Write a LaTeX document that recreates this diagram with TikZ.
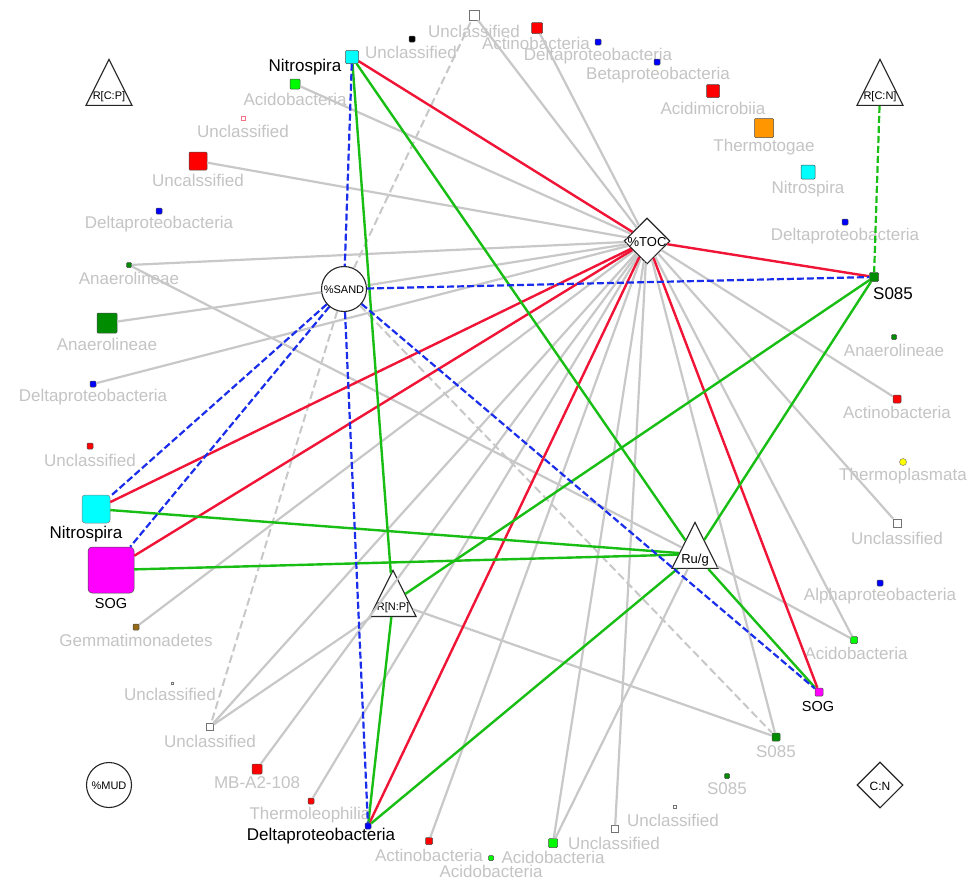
\documentclass[tikz,border=0pt]{standalone}
\usepackage{fontspec}
\setmainfont{Liberation Sans}
\usetikzlibrary{shapes.geometric}
\definecolor{lg}{RGB}{200,200,200}
\definecolor{lt}{RGB}{196,196,196}
\definecolor{ered}{RGB}{240,20,55}
\definecolor{egreen}{RGB}{25,190,20}
\definecolor{eblue}{RGB}{25,45,235}
\definecolor{ncyan}{RGB}{0,255,255}
\definecolor{nbgreen}{RGB}{0,250,0}
\definecolor{ndgreen}{RGB}{0,140,0}
\definecolor{nred}{RGB}{255,0,0}
\definecolor{nblue}{RGB}{0,0,255}
\definecolor{norange}{RGB}{255,150,0}
\definecolor{nmag}{RGB}{255,0,255}
\definecolor{nbrown}{RGB}{150,105,20}
\definecolor{nyellow}{RGB}{255,255,0}
\begin{document}
\begin{tikzpicture}[x=1pt,y=-1pt,
  tx/.style={rectangle, draw=black!70, line width=0.5pt, rounded corners=1pt, inner sep=0pt, minimum size=#1},
  ux/.style={rectangle, draw=black!55, fill=white, line width=0.6pt, inner sep=0pt, minimum size=#1},
  gl/.style={text=lt, font=\fontsize{17pt}{19pt}\selectfont, inner sep=0pt},
  bl/.style={text=black, font=\fontsize{17pt}{19pt}\selectfont, inner sep=0pt},
  sogl/.style={text=black, font=\fontsize{14.5pt}{16pt}\selectfont, inner sep=0pt},
  tri/.style={isosceles triangle, shape border rotate=90, isosceles triangle stretches, minimum width=46pt, minimum height=46pt, inner sep=0pt, draw=black!85, line width=1.1pt, fill=white},
  dia/.style={diamond, minimum width=46pt, minimum height=46pt, inner sep=0pt, draw=black!85, line width=1.1pt, fill=white},
  circ/.style={circle, minimum size=45pt, inner sep=0pt, draw=black!85, line width=1.1pt, fill=white},
  hubt/.style={font=\fontsize{#1}{#1}\selectfont, inner sep=0pt},
  gedge/.style={draw=lg, line width=2.2pt},
  gdash/.style={draw=lg, line width=2pt, dash pattern=on 8pt off 4pt},
  redge/.style={draw=ered, line width=2.4pt},
  gredge/.style={draw=egreen, line width=2.4pt},
  bdash/.style={draw=eblue, line width=2.2pt, dash pattern=on 7pt off 3pt},
  gndash/.style={draw=egreen, line width=2.2pt, dash pattern=on 7pt off 3pt}
]
\fill[white] (0,0) rectangle (974,879);
\useasboundingbox (0,0) rectangle (974,879);

% hubs
\node[dia] (TOC) at (647,241) {};
\node[hubt=13pt] at (647,242) {\%TOC};
\node[circ] (SAND) at (344,289) {};
\node[hubt=11pt] at (344,290) {\%SAND};
\node[tri, anchor=apex] (RCP) at (109,58) {};
\node[hubt=11pt] at (109,97) {R[C:P]};
\node[tri, anchor=apex] (RCN) at (880,58) {};
\node[hubt=11pt] at (880,97) {R[C:N]};
\node[tri, anchor=apex] (Rug) at (695,521) {};
\node[hubt=13pt] at (695,560) {Ru/g};
\node[tri, anchor=apex] (RNP) at (393,569) {};
\node[hubt=11pt] at (393,608) {R[N:P]};
\node[circ] (MUD) at (109,785) {};
\node[hubt=11pt] at (109,786) {\%MUD};
\node[dia] (CN) at (880,785) {};
\node[hubt=12pt] at (880,786) {C:N};

% taxa
\node[tx=13pt, fill=ncyan] (nT) at (352,57) {};
\node[bl] at (305,67) {Nitrospira};
\node[tx=6pt, fill=black] (blkT) at (412,39) {};
\node[gl] at (411,52) {Unclassified};
\node[ux=10pt] (uT) at (474,15) {};
\node[gl] at (474,31) {Unclassified};
\node[tx=11pt, fill=nred] (aT) at (537,28) {};
\node[gl] at (536,43) {Actinobacteria};
\node[tx=6pt, fill=nblue] (dT1) at (598,42) {};
\node[gl] at (598,56) {Deltaproteobacteria};
\node[tx=6pt, fill=nblue] (bT) at (657,62) {};
\node[gl] at (658,75) {Betaproteobacteria};
\node[tx=13pt, fill=nred] (amT) at (713,91) {};
\node[gl] at (713,108) {Acidimicrobiia};
\node[tx=19pt, fill=norange] (thT) at (764,128) {};
\node[gl] at (764,147) {Thermotogae};
\node[tx=14pt, fill=ncyan] (niR) at (808,172) {};
\node[gl] at (808,189) {Nitrospira};
\node[tx=6pt, fill=nblue] (dR1) at (845,222) {};
\node[gl] at (845,236) {Deltaproteobacteria};
\node[tx=9pt, fill=ndgreen] (sR) at (874,277) {};
\node[bl] at (893,294) {S085};
\node[tx=5pt, fill=ndgreen] (anR) at (894,337) {};
\node[gl] at (894,350) {Anaerolineae};
\node[tx=8pt, fill=nred] (acR) at (897,399) {};
\node[gl] at (897,412) {Actinobacteria};
\node[circle, draw=black!60, fill=nyellow, inner sep=0pt, minimum size=7pt] (tpR) at (903,462) {};
\node[gl] at (903,476) {Thermoplasmata};
\node[ux=8pt] (uR) at (897,523) {};
\node[gl] at (897,538) {Unclassified};
\node[tx=6pt, fill=nblue] (alR) at (880,583) {};
\node[gl] at (880,596) {Alphaproteobacteria};
\node[tx=7pt, fill=nbgreen] (adR) at (854,640) {};
\node[gl] at (856,653) {Acidobacteria};
\node[tx=8pt, fill=nmag] (sgS) at (819,692) {};
\node[sogl] at (818,706) {SOG};
\node[tx=8pt, fill=ndgreen] (s85a) at (776,737) {};
\node[gl] at (776,752) {S085};
\node[tx=5pt, fill=ndgreen] (s85b) at (727,776) {};
\node[gl] at (727,789) {S085};
\node[ux=3pt] (uB1) at (675,807) {};
\node[gl] at (673,820) {Unclassified};
\node[ux=7pt] (uB2) at (615,829) {};
\node[gl] at (614,843) {Unclassified};
\node[tx=9pt, fill=nbgreen] (adB1) at (553,843) {};
\node[gl] at (553,857) {Acidobacteria};
\node[tx=5pt, fill=nbgreen] (adB2) at (491,858) {};
\node[gl] at (491,871) {Acidobacteria};
\node[tx=7pt, fill=nred] (acB) at (429,841) {};
\node[gl] at (429,855) {Actinobacteria};
\node[tx=6pt, fill=nblue] (dB) at (368,826) {};
\node[bl] at (321,836) {Deltaproteobacteria};
\node[tx=6pt, fill=nred] (tlB) at (311,801) {};
\node[gl] at (310,815) {Thermoleophilia};
\node[tx=10pt, fill=nred] (mbB) at (257,769) {};
\node[gl] at (257,783) {MB-A2-108};
\node[ux=7pt] (uL1) at (210,727) {};
\node[gl] at (210,741) {Unclassified};
\node[ux=2pt] (uL2) at (172,683) {};
\node[gl] at (170,694) {Unclassified};
\node[tx=6pt, fill=nbrown] (gmL) at (136,627) {};
\node[gl] at (136,640) {Gemmatimonadetes};
\node[rectangle, draw=black!70, line width=0.5pt, rounded corners=4pt, inner sep=0pt, minimum size=46pt, fill=nmag] (sgB) at (111,570) {};
\node[sogl] at (111,603) {SOG};
\node[rectangle, draw=black!50, line width=0.5pt, rounded corners=3pt, inner sep=0pt, minimum size=28pt, fill=ncyan] (niB) at (96,509) {};
\node[bl] at (86,534) {Nitrospira};
\node[tx=6pt, fill=nred] (uL3) at (90,446) {};
\node[gl] at (90,460) {Unclassified};
\node[tx=6pt, fill=nblue] (dL1) at (93,384) {};
\node[gl] at (93,397) {Deltaproteobacteria};
\node[tx=20pt, fill=ndgreen] (anB) at (107,323) {};
\node[gl] at (107,344) {Anaerolineae};
\node[tx=5pt, fill=ndgreen] (anS) at (129,265) {};
\node[gl] at (129,278) {Anaerolineae};
\node[tx=6pt, fill=nblue] (dL2) at (159,211) {};
\node[gl] at (159,224) {Deltaproteobacteria};
\node[tx=18pt, fill=nred] (ucL) at (198,161) {};
\node[gl] at (198,180) {Uncalssified};
\node[rectangle, draw=ered!60, fill=white, line width=0.6pt, inner sep=0pt, minimum size=4pt] (uL4) at (243,118) {};
\node[gl] at (243,131) {Unclassified};
\node[tx=10pt, fill=nbgreen] (adL) at (295,84) {};
\node[gl] at (295,99) {Acidobacteria};

% gray edges
\foreach \t in {uT,aT,adL,ucL,anS,SAND,dL1,gmL,uL1,mbB,tlB,acB,adB1,uB2,s85a,adR,uR,acR}
  \draw[gedge] (TOC) -- (\t);
\draw[gedge] (SAND) -- (anB);
\draw[gedge] (anS) -- (Rug);
\draw[gedge] (Rug) -- (adR);
\draw[gedge] (Rug) -- (adB1);
\draw[gedge] (uL1) -- (RNP);
\draw[gedge] (RNP) -- (s85a);
% gray dashed
\draw[gdash] (SAND) -- (uL1);
\draw[gdash] (SAND) -- (uT);
\draw[gdash] (SAND) -- (s85a);
% red
\draw[redge] (nT) -- (TOC);
\draw[redge] (TOC) -- (sR);
\draw[redge] (TOC) -- (niB);
\draw[redge] (TOC) -- (sgB);
\draw[redge] (TOC) -- (dB);
\draw[redge] (TOC) -- (sgS);
% green
\draw[gredge] (nT) -- (RNP);
\draw[gredge] (nT) -- (Rug);
\draw[gredge] (Rug) -- (sgS);
\draw[gredge] (niB) -- (Rug);
\draw[gredge] (sgB) -- (Rug);
\draw[gredge] (sR) -- (RNP);
\draw[gredge] (sR) -- (Rug);
\draw[gredge] (Rug) -- (dB);
\draw[gredge] (RNP) -- (dB);
% blue dashed
\draw[bdash] (nT) -- (SAND);
\draw[bdash] (SAND) -- (sR);
\draw[bdash] (SAND) -- (niB);
\draw[bdash] (SAND) -- (sgB);
\draw[bdash] (SAND) -- (dB);
\draw[bdash] (SAND) -- (sgS);
% green dashed
\draw[gndash] (RCN) -- (sR);
\end{tikzpicture}
\end{document}
